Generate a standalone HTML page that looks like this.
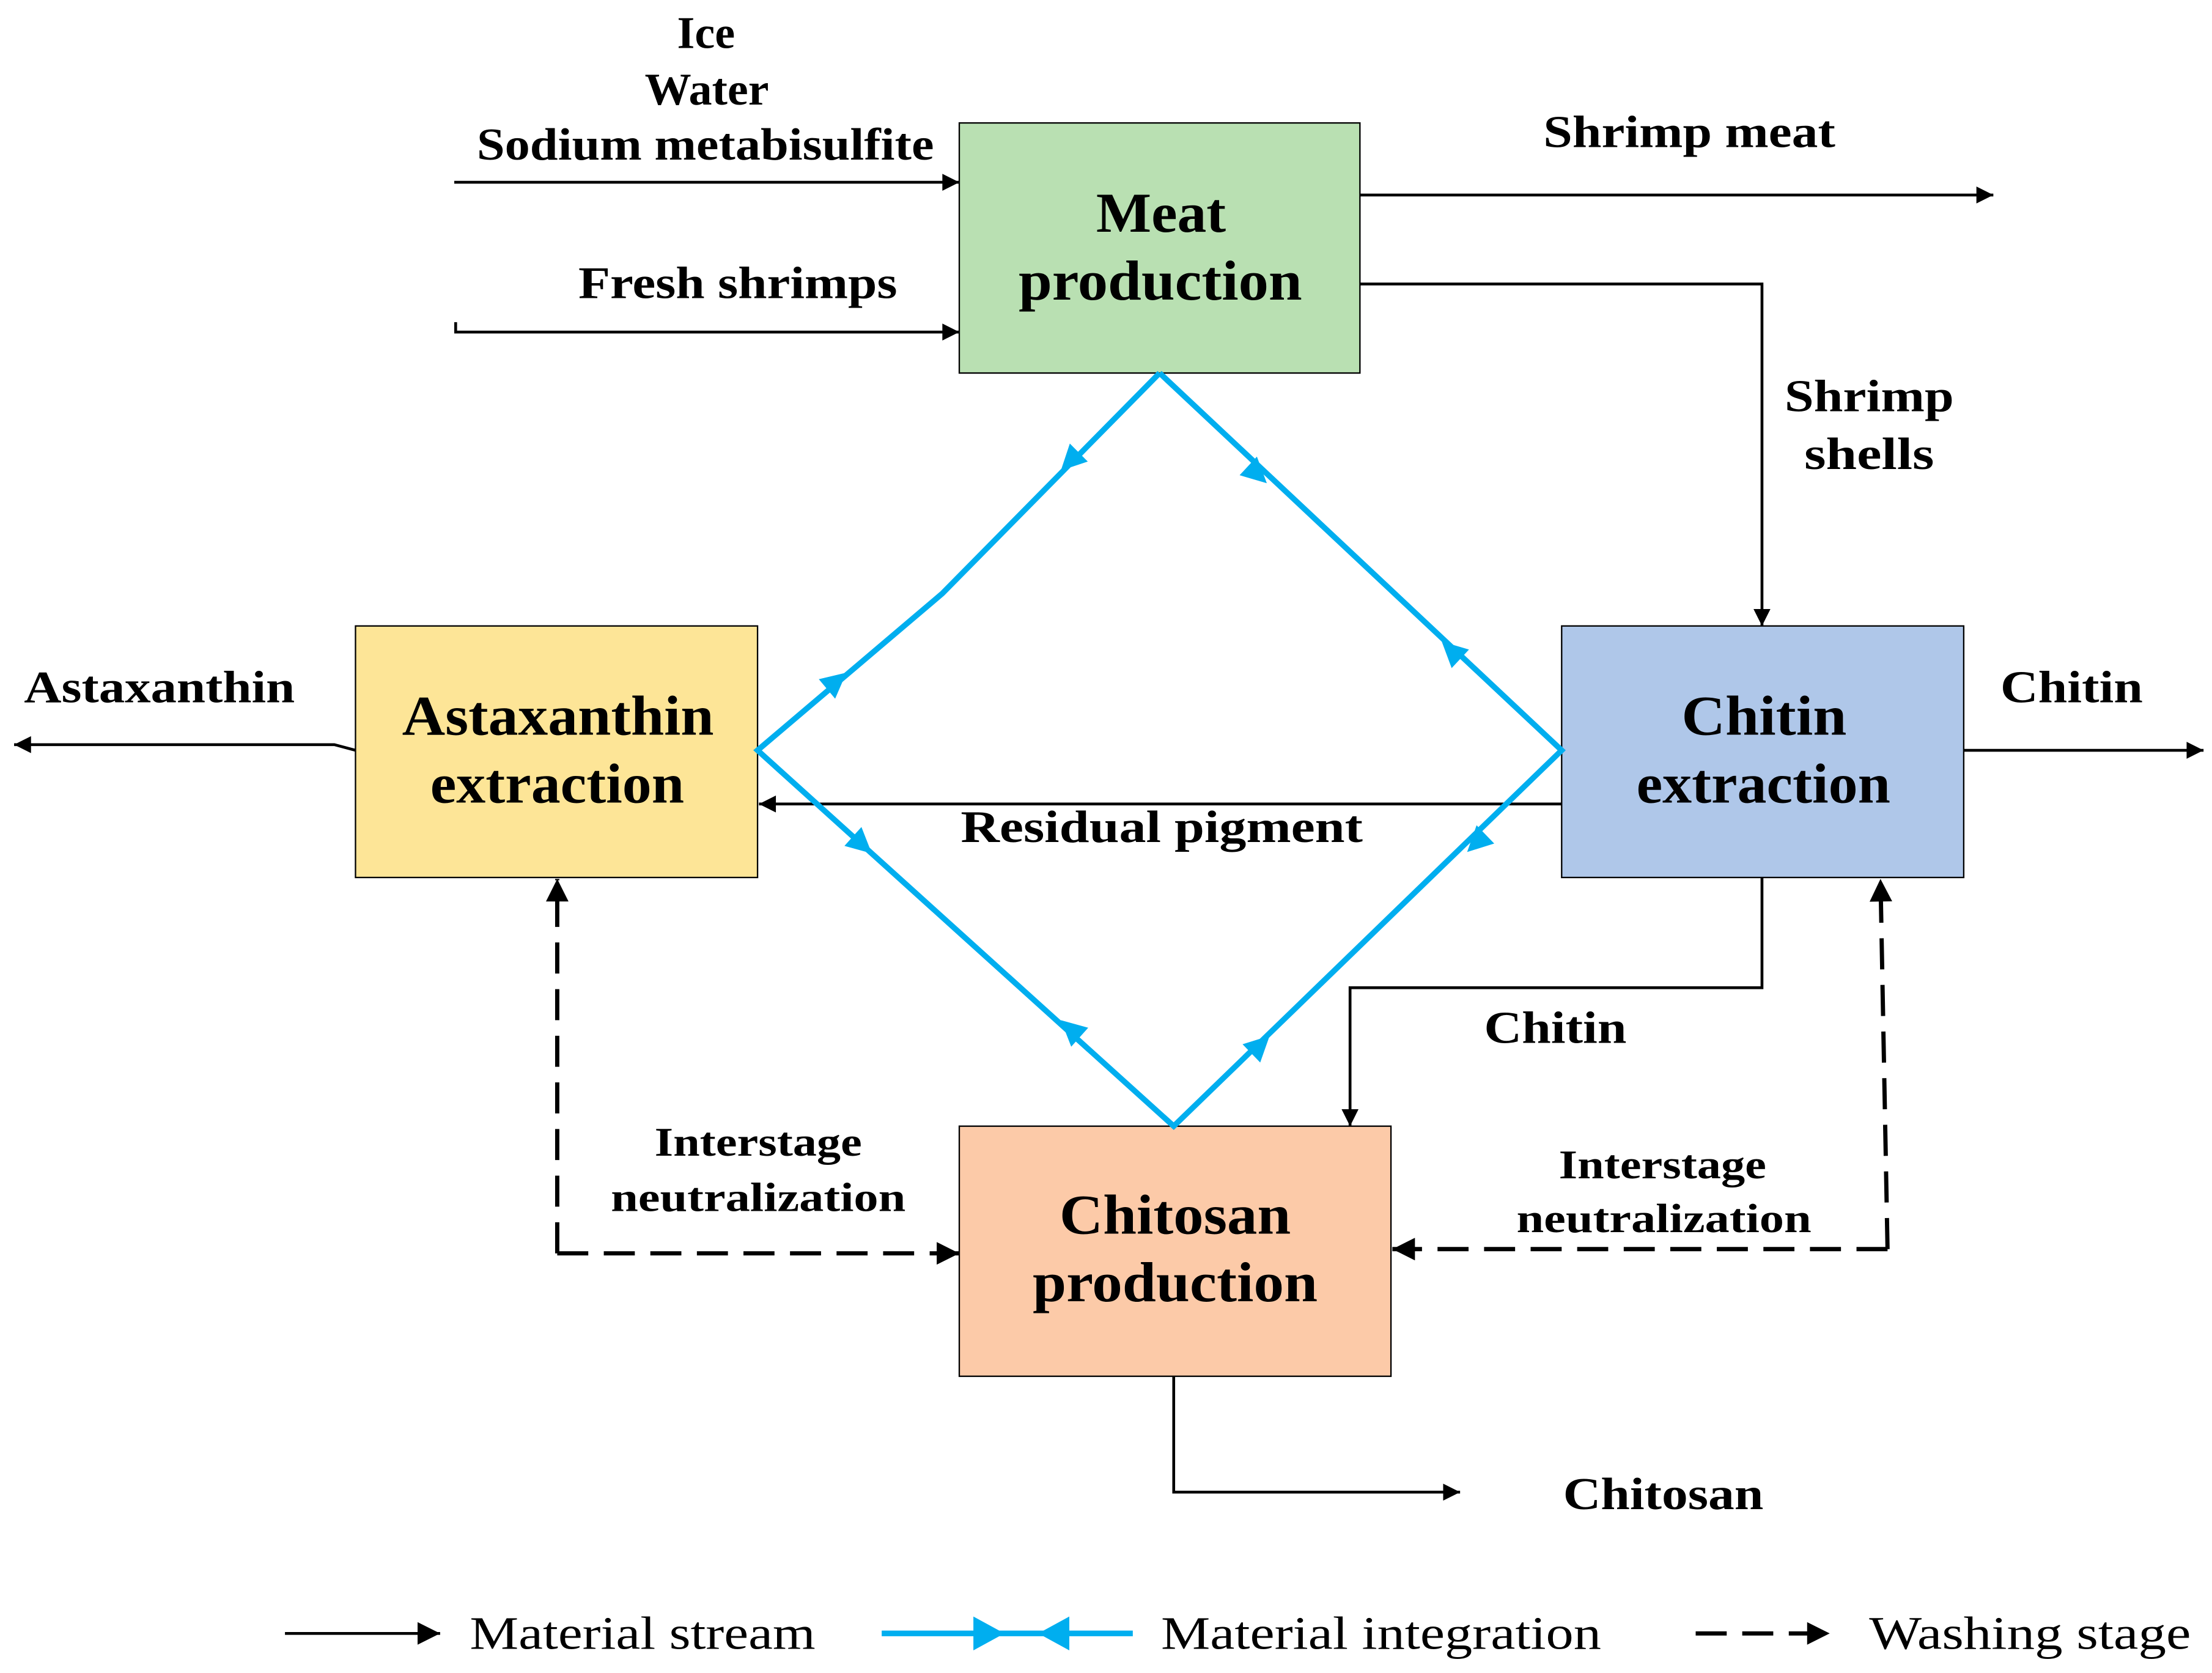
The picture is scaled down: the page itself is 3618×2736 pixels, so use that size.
<!DOCTYPE html>
<html><head><meta charset="utf-8"><style>
html,body{margin:0;padding:0;background:#fff;}
svg{display:block;}
text{font-family:"Liberation Serif",serif;font-weight:bold;fill:#000;}
</style></head><body>
<svg width="3618" height="2736" viewBox="0 0 1568 1184" preserveAspectRatio="none" xmlns="http://www.w3.org/2000/svg">
<defs>
<marker id="a" viewBox="0 0 10 10" refX="10" refY="5" markerWidth="14" markerHeight="12" markerUnits="userSpaceOnUse" orient="auto"><path d="M0,0 L10,5 L0,10 z" fill="#000"/></marker>
<marker id="ab" viewBox="0 0 10 10" refX="10" refY="5" markerWidth="18" markerHeight="16" markerUnits="userSpaceOnUse" orient="auto"><path d="M0,0 L10,5 L0,10 z" fill="#000"/></marker>
</defs>
<rect width="1568" height="1184" fill="#fff"/>
<rect x="680" y="87" width="284" height="177" fill="#b9e0b2" stroke="#000" stroke-width="1"/>
<rect x="252" y="443" width="285" height="178" fill="#fde597" stroke="#000" stroke-width="1"/>
<rect x="1107" y="443" width="285" height="178" fill="#afc7e9" stroke="#000" stroke-width="1"/>
<rect x="680" y="797" width="306" height="177" fill="#fccaa8" stroke="#000" stroke-width="1"/>
<g font-size="40" lengthAdjust="spacingAndGlyphs">
<text x="777" y="164" textLength="92" lengthAdjust="spacingAndGlyphs">Meat</text>
<text x="722" y="212" textLength="201" lengthAdjust="spacingAndGlyphs">production</text>
<text x="285" y="520" textLength="221" lengthAdjust="spacingAndGlyphs">Astaxanthin</text>
<text x="305" y="568" textLength="180" lengthAdjust="spacingAndGlyphs">extraction</text>
<text x="1192" y="520" textLength="117" lengthAdjust="spacingAndGlyphs">Chitin</text>
<text x="1160" y="568" textLength="180" lengthAdjust="spacingAndGlyphs">extraction</text>
<text x="751" y="873" textLength="164" lengthAdjust="spacingAndGlyphs">Chitosan</text>
<text x="732" y="921" textLength="202" lengthAdjust="spacingAndGlyphs">production</text>
</g>
<g stroke="#000" stroke-width="2" fill="none">
<path d="M322,129 H680" marker-end="url(#a)"/>
<path d="M323,228 V235 H680" marker-end="url(#a)"/>
<path d="M964,138 H1413" marker-end="url(#a)"/>
<path d="M964,201 H1249 V443" marker-end="url(#a)"/>
<path d="M1392,531 H1562" marker-end="url(#a)"/>
<path d="M252,531 L237,527 H10" marker-end="url(#a)"/>
<path d="M1107,569 H538" marker-end="url(#a)"/>
<path d="M1249,621 V699 H957 V797" marker-end="url(#a)"/>
<path d="M832,974 V1056 H1035" marker-end="url(#a)"/>
</g>
<g stroke="#000" stroke-width="3" fill="none" stroke-dasharray="22,11">
<path d="M395,887 V622" marker-end="url(#ab)"/>
<path d="M395,887 H680" marker-end="url(#ab)"/>
<path d="M1338,884 H987" marker-end="url(#ab)"/>
<path d="M1338,884 L1333,622" marker-end="url(#ab)"/>
</g>
<g stroke="#00aeef" stroke-width="4" fill="none">
<path d="M822,264 L668,420 L537,531 L832,797 L1107,531 L822,264"/>
</g>
<g fill="#00aeef">
<polygon points="0,0 -18,-9 -18,9" transform="translate(752,333) rotate(135)"/>
<polygon points="0,0 -18,-9 -18,9" transform="translate(898,342) rotate(43)"/>
<polygon points="0,0 -18,-9 -18,9" transform="translate(600,476) rotate(-40)"/>
<polygon points="0,0 -18,-9 -18,9" transform="translate(1022,454) rotate(-137)"/>
<polygon points="0,0 -18,-9 -18,9" transform="translate(618,604) rotate(42)"/>
<polygon points="0,0 -18,-9 -18,9" transform="translate(752,722) rotate(-138)"/>
<polygon points="0,0 -18,-9 -18,9" transform="translate(1040,603) rotate(136)"/>
<polygon points="0,0 -18,-9 -18,9" transform="translate(900,733) rotate(-44)"/>
</g>
<g font-size="32">
<text x="480" y="34" textLength="41" lengthAdjust="spacingAndGlyphs">Ice</text>
<text x="457" y="74" textLength="88" lengthAdjust="spacingAndGlyphs">Water</text>
<text x="338" y="113" textLength="324" lengthAdjust="spacingAndGlyphs">Sodium metabisulfite</text>
<text x="410" y="211" textLength="226" lengthAdjust="spacingAndGlyphs">Fresh shrimps</text>
<text x="1094" y="104" textLength="207" lengthAdjust="spacingAndGlyphs">Shrimp meat</text>
<text x="1265" y="291" textLength="120" lengthAdjust="spacingAndGlyphs">Shrimp</text>
<text x="1279" y="332" textLength="92" lengthAdjust="spacingAndGlyphs">shells</text>
<text x="17" y="497" textLength="192" lengthAdjust="spacingAndGlyphs">Astaxanthin</text>
<text x="1418" y="497" textLength="101" lengthAdjust="spacingAndGlyphs">Chitin</text>
<text x="681" y="596" textLength="285" lengthAdjust="spacingAndGlyphs">Residual pigment</text>
<text x="1052" y="738" textLength="101" lengthAdjust="spacingAndGlyphs">Chitin</text>
<text x="1108" y="1068" textLength="142" lengthAdjust="spacingAndGlyphs">Chitosan</text>
</g>
<g font-size="29">
<text x="464" y="818" textLength="147" lengthAdjust="spacingAndGlyphs">Interstage</text>
<text x="433" y="857" textLength="209" lengthAdjust="spacingAndGlyphs">neutralization</text>
<text x="1105" y="834" textLength="147" lengthAdjust="spacingAndGlyphs">Interstage</text>
<text x="1075" y="872" textLength="209" lengthAdjust="spacingAndGlyphs">neutralization</text>
</g>
<path d="M202,1156 H312" stroke="#000" stroke-width="2" marker-end="url(#ab)"/>
<text x="333" y="1167" font-size="33" style="font-weight:normal" textLength="245" lengthAdjust="spacingAndGlyphs">Material stream</text>
<path d="M625,1156 H803" stroke="#00aeef" stroke-width="4"/>
<polygon points="712,1156 690,1144 690,1168" fill="#00aeef"/>
<polygon points="736,1156 758,1144 758,1168" fill="#00aeef"/>
<text x="823" y="1167" font-size="33" style="font-weight:normal" textLength="312" lengthAdjust="spacingAndGlyphs">Material integration</text>
<path d="M1202,1156 H1297" stroke="#000" stroke-width="3" stroke-dasharray="22,11" marker-end="url(#ab)"/>
<text x="1325" y="1167" font-size="33" style="font-weight:normal" textLength="228" lengthAdjust="spacingAndGlyphs">Washing stage</text>
</svg>
</body></html>
